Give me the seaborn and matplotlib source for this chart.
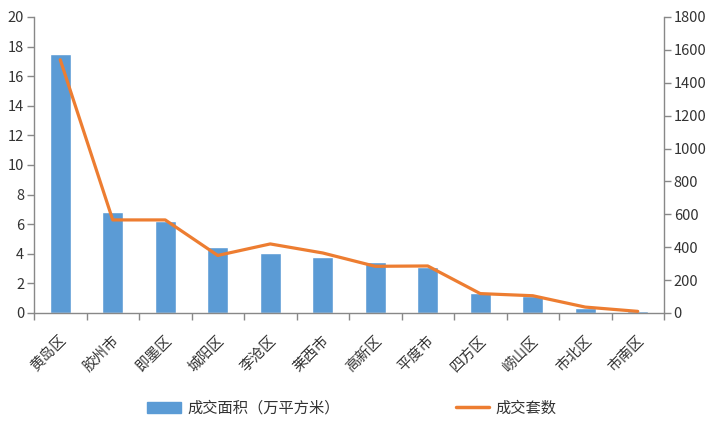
import matplotlib
matplotlib.use("Agg")
import matplotlib.pyplot as plt
import matplotlib.transforms as mtransforms
import seaborn as sns
import pandas as pd
import numpy as np
from matplotlib.patches import Patch
from matplotlib.lines import Line2D

sns.set_theme(style="white")
plt.rcParams['font.family'] = ['Noto Sans CJK SC', 'DejaVu Sans']

districts = ["黄岛区", "胶州市", "即墨区", "城阳区", "李沧区", "莱西市",
             "高新区", "平度市", "四方区", "崂山区", "市北区", "市南区"]
area = [17.5, 6.85, 6.2, 4.45, 4.05, 3.8, 3.45, 3.08, 1.38, 1.15, 0.36, 0.15]
units = [1540, 566, 566, 350, 420, 365, 284, 286, 118, 105, 36, 10]
bar_label = "成交面积（万平方米）"
line_label = "成交套数"

blue = "#5B9BD5"
orange = "#ED7D31"
grey = "#888888"
txt = "#333333"

df = pd.DataFrame({"district": districts, "area": area, "units": units})

fig = plt.figure(figsize=(7.17, 4.22), dpi=100)
ax = fig.add_axes([34/717, 1 - 313/422, (664-34)/717, (313-17)/422])

sns.barplot(data=df, x="district", y="area", color=blue, width=0.4,
            saturation=1, ax=ax)
ax.set_ylim(0, 20)
ax.set_xlim(-0.5, len(districts) - 0.5)
ax.set_yticks(np.arange(0, 21, 2))
ax.set_xlabel("")
ax.set_ylabel("")

ax2 = ax.twinx()
sns.lineplot(x=np.arange(len(districts)), y=units, color=orange, linewidth=2.3,
             ax=ax2)
ax2.set_ylim(0, 1800)
ax2.set_yticks(np.arange(0, 1801, 200))
ax2.set_xlim(-0.5, len(districts) - 0.5)

for a in (ax, ax2):
    a.spines['top'].set_visible(False)
    for s in ('left', 'right', 'bottom'):
        a.spines[s].set_color(grey)
        a.spines[s].set_linewidth(1)
ax.spines['right'].set_visible(False)
ax2.spines['left'].set_visible(False)
ax2.spines['bottom'].set_visible(False)

ax.tick_params(axis='y', left=True, length=5, color=grey, width=1,
               labelsize=10.5, labelcolor=txt, pad=2)
ax2.tick_params(axis='y', right=True, length=5, color=grey, width=1,
                labelsize=10.5, labelcolor=txt, pad=2)

ax.set_xticks(np.arange(len(districts)))
ax.set_xticklabels(districts, rotation=45, ha='right', va='center',
                   rotation_mode='anchor', fontsize=10.5, color=txt)
ax.tick_params(axis='x', which='major', length=0, pad=18)
offset = mtransforms.ScaledTranslation(4/100, 0, fig.dpi_scale_trans)
for lab in ax.get_xticklabels():
    lab.set_transform(lab.get_transform() + offset)
ax.set_xticks(np.arange(-0.5, len(districts), 1), minor=True)
ax.tick_params(axis='x', which='minor', bottom=True, length=5, color=grey, width=1)

handles = [Patch(facecolor=blue, edgecolor=blue),
           Line2D([0], [0], color=orange, linewidth=2.5)]
fig.legend(handles, [bar_label, line_label], loc='center',
           bbox_to_anchor=(352/717, 1 - 408/422), ncol=2, frameon=False,
           fontsize=11, handlelength=2.2, handletextpad=0.4,
           columnspacing=7.6, labelcolor=txt)

fig.savefig("out.png", dpi=100)
